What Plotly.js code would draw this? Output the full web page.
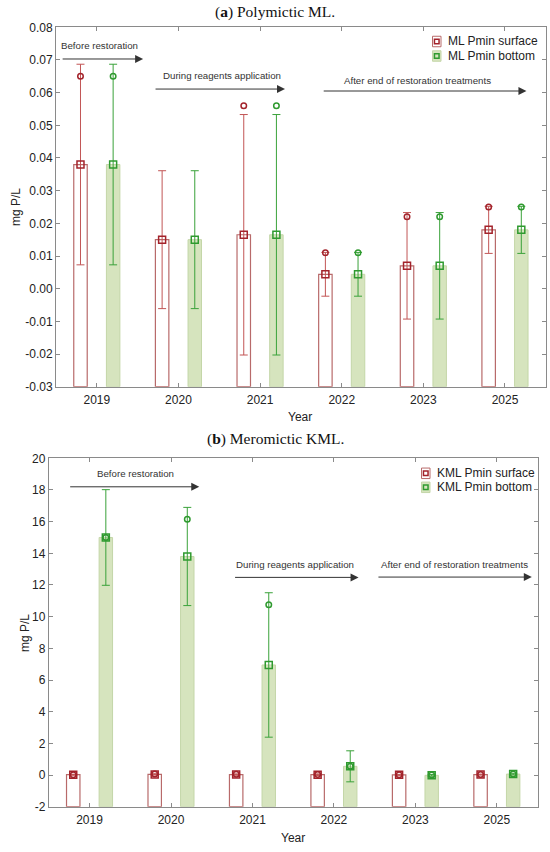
<!DOCTYPE html>
<html>
<head>
<meta charset="utf-8">
<script src="https://cdn.plot.ly/plotly-3.0.1.min.js"></script>
<style>
html, body { margin: 0; padding: 0; background: #fff; }
#chart { width: 550px; height: 852px; }
</style>
</head>
<body>
<div id="chart"></div>
<script>
// ---- Data ----
const years = ['2019', '2020', '2021', '2022', '2023', '2025'];

// (a) Polymictic ML
const mlNames    = ['ML Pmin surface', 'ML Pmin bottom'];
const mlSurfMean = [0.038, 0.015, 0.0165, 0.0044, 0.007, 0.018];
const mlSurfErr  = [0.0307, 0.0211, 0.0368, 0.0067, 0.0163, 0.0072];
const mlSurfMax  = [0.065, null, 0.056, 0.011, 0.022, 0.025];
const mlBotMean  = [0.038, 0.015, 0.0165, 0.0044, 0.007, 0.018];
const mlBotErr   = [0.0307, 0.0211, 0.0368, 0.0067, 0.0163, 0.0072];
const mlBotMax   = [0.065, null, 0.056, 0.011, 0.022, 0.025];
const mlTickVals = [-0.03, -0.02, -0.01, 0, 0.01, 0.02, 0.03, 0.04, 0.05, 0.06, 0.07, 0.08];
const mlTickText = ['-0.03', '-0.02', '-0.01', '0.00', '0.01', '0.02', '0.03', '0.04', '0.05', '0.06', '0.07', '0.08'];

// (b) Meromictic KML
const kmlNames    = ['KML Pmin surface', 'KML Pmin bottom'];
const kmlSurfMean = [0.02, 0.04, 0.03, 0.02, 0.01, 0.03];
const kmlSurfErr  = [0.03, 0.04, 0.04, 0.05, 0.03, 0.03];
const kmlSurfMax  = [0.02, 0.06, 0.05, 0.04, 0.02, 0.04];
const kmlBotMean  = [15.0, 13.8, 6.95, 0.55, -0.02, 0.06];
const kmlBotErr   = [3.02, 3.1, 4.56, 0.98, 0.05, 0.05];
const kmlBotMax   = [15.0, 16.15, 10.75, 0.55, 0.0, 0.06];
const kmlTickVals = [-2, 0, 2, 4, 6, 8, 10, 12, 14, 16, 18, 20];
const kmlTickText = ['-2', '0', '2', '4', '6', '8', '10', '12', '14', '16', '18', '20'];

// ---- Styles ----
const RED = '#a3232b';
const RED_BAR = '#b86a6a';
const RED_ERR = '#c25555';
const GREEN = '#2f9a2f';
const GREEN_FILL = 'rgb(214,228,190)';
const GREEN_LINE = 'rgb(196,214,168)';
const GREEN_ERR = '#3aa23a';
const FONT = 'Liberation Sans, Arial, sans-serif';
const SERIF = 'Liberation Serif, Times New Roman, serif';

const idx = years.map((_, i) => i);
const SHIFT = 0.2, BW = 0.165;

function panel(xa, ya, base, sMean, sErr, sMax, bMean, bErr, bMax, names) {
  const xl = idx.map(v => v - SHIFT), xr = idx.map(v => v + SHIFT);
  return [
    { type: 'bar', x: idx, y: sMean.map(m => m - base), base: base, offset: -SHIFT - BW / 2, width: BW,
      xaxis: xa, yaxis: ya, name: names[0], showlegend: false,
      marker: { color: 'rgba(255,255,255,1)', line: { color: RED_BAR, width: 1.2 } }, hoverinfo: 'skip' },
    { type: 'bar', x: idx, y: bMean.map(m => m - base), base: base, offset: SHIFT - BW / 2, width: BW,
      xaxis: xa, yaxis: ya, name: names[1], showlegend: false,
      marker: { color: GREEN_FILL, line: { color: GREEN_LINE, width: 1 } }, hoverinfo: 'skip' },
    { type: 'scatter', mode: 'markers', x: xl, y: sMean, xaxis: xa, yaxis: ya, showlegend: false,
      marker: { symbol: 'square-open', size: 7, color: RED, line: { width: 1.5, color: RED } },
      error_y: { type: 'data', array: sErr, visible: true, color: RED_ERR, thickness: 1, width: 4 } },
    { type: 'scatter', mode: 'markers', x: xr, y: bMean, xaxis: xa, yaxis: ya, showlegend: false,
      marker: { symbol: 'square-open', size: 7, color: GREEN, line: { width: 1.5, color: GREEN } },
      error_y: { type: 'data', array: bErr, visible: true, color: GREEN_ERR, thickness: 1, width: 4 } },
    { type: 'scatter', mode: 'markers', x: xl, y: sMax, xaxis: xa, yaxis: ya, showlegend: false,
      marker: { symbol: 'circle-open', size: 5.5, color: RED, line: { width: 1.5, color: RED } } },
    { type: 'scatter', mode: 'markers', x: xr, y: bMax, xaxis: xa, yaxis: ya, showlegend: false,
      marker: { symbol: 'circle-open', size: 5.5, color: GREEN, line: { width: 1.5, color: GREEN } } }
  ];
}

const data = [].concat(
  panel('x', 'y', -0.03, mlSurfMean, mlSurfErr, mlSurfMax, mlBotMean, mlBotErr, mlBotMax, mlNames),
  panel('x2', 'y2', -2, kmlSurfMean, kmlSurfErr, kmlSurfMax, kmlBotMean, kmlBotErr, kmlBotMax, kmlNames)
);

function xAxis(domain, anchor) {
  return { domain: domain, anchor: anchor, range: [-0.5, 5.5], tickvals: idx, ticktext: years,
    showline: true, mirror: 'ticks', linecolor: '#8a8a8a', linewidth: 1,
    ticks: 'inside', ticklen: 4, tickcolor: '#8a8a8a', showgrid: false, zeroline: false,
    ticklabelstandoff: 2,
    tickfont: { family: FONT, size: 12, color: '#222' }, fixedrange: true };
}
function yAxis(domain, anchor, range, tv, tt) {
  return { domain: domain, anchor: anchor, range: range, tickvals: tv, ticktext: tt,
    showline: true, mirror: 'ticks', linecolor: '#8a8a8a', linewidth: 1,
    ticks: 'inside', ticklen: 4, tickcolor: '#8a8a8a', showgrid: false, zeroline: false,
    tickfont: { family: FONT, size: 12, color: '#222' }, fixedrange: true };
}

function arrow(xr, yr, x0, x1, y) {
  return { xref: xr, yref: yr, axref: xr, ayref: yr, x: x1, y: y, ax: x0, ay: y, text: '',
    showarrow: true, arrowhead: 2, arrowsize: 1.6, arrowwidth: 1, arrowcolor: '#333', standoff: 0 };
}
function label(xr, yr, x, y, t) {
  return { xref: xr, yref: yr, x: x, y: y, text: t, showarrow: false,
    font: { family: FONT, size: 9.7, color: '#333' } };
}
function paperText(x, y, t, font, angle, anchor) {
  return { xref: 'paper', yref: 'paper', x: x, y: y, text: t, showarrow: false,
    xanchor: anchor || 'center', yanchor: 'middle', font: font, textangle: angle || 0 };
}

// custom legend (pixel positions -> paper)
const W = 550, H = 852;
function px(v) { return v / W; }
function py(v) { return 1 - v / H; }
const legendShapes = [];
const legendAnn = [];
function legendBlock(textX, rowY, names) {
  const sw = 8.5, sh = 10.5, gap = 4.5;
  const cols = [
    { fill: 'rgba(255,255,255,1)', line: RED_BAR, mk: RED },
    { fill: GREEN_FILL, line: GREEN_LINE, mk: GREEN }
  ];
  names.forEach((n, i) => {
    const cy = rowY[i];
    const x1 = textX - gap, x0 = x1 - sw;
    legendShapes.push({ type: 'rect', xref: 'paper', yref: 'paper',
      x0: px(x0), x1: px(x1), y0: py(cy + sh / 2), y1: py(cy - sh / 2),
      fillcolor: cols[i].fill, line: { color: cols[i].line, width: 1 } });
    const cx = (x0 + x1) / 2, ms = 2.3;
    legendShapes.push({ type: 'rect', xref: 'paper', yref: 'paper',
      x0: px(cx - ms), x1: px(cx + ms), y0: py(cy + ms), y1: py(cy - ms),
      fillcolor: 'rgba(0,0,0,0)', line: { color: cols[i].mk, width: 1.5 } });
    legendAnn.push(paperText(px(textX), py(cy), n, { family: FONT, size: 12, color: '#222' }, 0, 'left'));
  });
}
legendBlock(445.5, [41.5, 56], mlNames);
legendBlock(434.5, [473.3, 487.3], kmlNames);

const layout = {
  width: W, height: H,
  margin: { l: 0, r: 0, t: 0, b: 0 },
  paper_bgcolor: '#fff', plot_bgcolor: '#fff',
  barmode: 'overlay',
  showlegend: false,
  xaxis: xAxis([56 / W, 545.8 / W], 'y'),
  yaxis: yAxis([1 - 386.7 / H, 1 - 27.3 / H], 'x', [-0.03, 0.08], mlTickVals, mlTickText),
  xaxis2: xAxis([48.8 / W, 537.6 / W], 'y2'),
  yaxis2: yAxis([1 - 806.7 / H, 1 - 458.3 / H], 'x2', [-2, 20], kmlTickVals, kmlTickText),
  shapes: legendShapes,
  annotations: [
    paperText(0.5, py(11.5), '(<b>a</b>) Polymictic ML.', { family: SERIF, size: 15.5, color: '#111' }),
    paperText(0.5, py(439), '(<b>b</b>) Meromictic KML.', { family: SERIF, size: 15.5, color: '#111' }),
    paperText(px(16), py(207), 'mg P/L', { family: FONT, size: 12, color: '#222' }, -90),
    paperText(px(25), py(633), 'mg P/L', { family: FONT, size: 12, color: '#222' }, -90),
    paperText(px(300), py(417), 'Year', { family: FONT, size: 12, color: '#222' }),
    paperText(px(293), py(838), 'Year', { family: FONT, size: 12, color: '#222' }),
    // top panel phases
    label('x', 'y', 0.034, 0.0743, 'Before restoration'),
    arrow('x', 'y', -0.437, 0.567, 0.0703),
    label('x', 'y', 1.535, 0.0651, 'During reagents application'),
    arrow('x', 'y', 0.701, 2.305, 0.0611),
    label('x', 'y', 3.933, 0.0636, 'After end of restoration treatments'),
    arrow('x', 'y', 2.761, 5.263, 0.0605),
    // bottom panel phases
    label('x2', 'y2', 0.562, 19.05, 'Before restoration'),
    arrow('x2', 'y2', -0.256, 1.347, 18.2),
    label('x2', 'y2', 2.519, 13.32, 'During reagents application'),
    arrow('x2', 'y2', 1.768, 3.302, 12.48),
    label('x2', 'y2', 4.476, 13.3, 'After end of restoration treatments'),
    arrow('x2', 'y2', 3.528, 5.429, 12.5)
  ].concat(legendAnn)
};

Plotly.newPlot('chart', data, layout, { staticPlot: true, displayModeBar: false });
</script>
</body>
</html>
